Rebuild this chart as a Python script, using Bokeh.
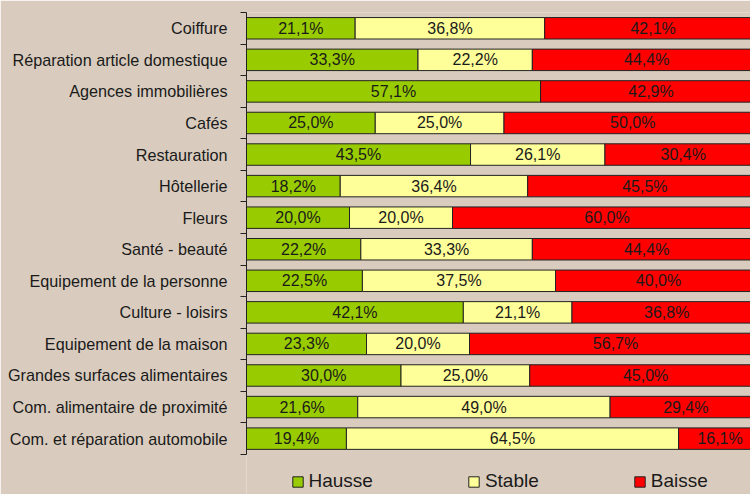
from bokeh.plotting import figure
from bokeh.models import ColumnDataSource, Range1d, FixedTicker
from bokeh.core.properties import value
from bokeh.embed import file_html
from bokeh.resources import INLINE

categories = ["Coiffure", "Réparation article domestique", "Agences immobilières", "Cafés",
              "Restauration", "Hôtellerie", "Fleurs", "Santé - beauté",
              "Equipement de la personne", "Culture - loisirs", "Equipement de la maison",
              "Grandes surfaces alimentaires", "Com. alimentaire de proximité",
              "Com. et réparation automobile"]
hausse = [21.1, 33.3, 57.1, 25.0, 43.5, 18.2, 20.0, 22.2, 22.5, 42.1, 23.3, 30.0, 21.6, 19.4]
stable = [36.8, 22.2, 0.0, 25.0, 26.1, 36.4, 20.0, 33.3, 37.5, 21.1, 20.0, 25.0, 49.0, 64.5]
baisse = [42.1, 44.4, 42.9, 50.0, 30.4, 45.5, 60.0, 44.4, 40.0, 36.8, 56.7, 45.0, 29.4, 16.1]
series = ["Hausse", "Stable", "Baisse"]
colors = ["#99CC00", "#FFFF99", "#FF0000"]

BG = "#D9CCBE"
FONT = "Liberation Sans"

n = len(categories)
ypos = [i + 0.5 for i in range(n)]

src = ColumnDataSource(dict(y=ypos, Hausse=hausse, Stable=stable, Baisse=baisse))

p = figure(width=750, height=494, output_backend="svg", toolbar_location=None,
           x_range=Range1d(0, 97.86), y_range=Range1d(15.27, 0),
           x_axis_location=None, min_border_left=246, min_border_right=0,
           min_border_top=12, min_border_bottom=0,
           background_fill_color=BG, border_fill_color=BG)
p.outline_line_color = None
p.grid.visible = False

p.hbar_stack(series, y="y", height=0.68, color=colors, line_color="#222222",
             line_width=1, source=src, legend_label=series)

# segment labels
lx, ly, lt = [], [], []
for i in range(n):
    start = 0.0
    for v in (hausse[i], stable[i], baisse[i]):
        if v > 0:
            lx.append(start + v / 2)
            ly.append(ypos[i])
            lt.append(("%.1f%%" % v).replace(".", ","))
        start += v
p.text(x=lx, y=ly, text=lt, text_align="center", text_baseline="middle",
       text_font=value(FONT), text_font_size="16px", text_color="#1a1a1a")

yax = p.yaxis[0]
yax.ticker = FixedTicker(ticks=ypos, minor_ticks=list(range(n + 1)))
yax.major_label_overrides = {ypos[i]: categories[i] for i in range(n)}
yax.bounds = (0, n)
yax.major_tick_out = 0
yax.major_tick_in = 0
yax.minor_tick_out = 6
yax.minor_tick_in = 0
yax.minor_tick_line_color = "#222222"
yax.axis_line_color = "#222222"
yax.major_label_standoff = 13
yax.major_label_text_font = FONT
yax.major_label_text_font_size = "16.2px"
yax.major_label_text_color = "#1a1a1a"

lg = p.legend[0]
lg.orientation = "horizontal"
lg.location = (44.5, 2)
lg.background_fill_alpha = 0
lg.border_line_alpha = 0
lg.padding = 0
lg.margin = 0
lg.spacing = 94
lg.glyph_width = 13
lg.glyph_height = 13
lg.label_standoff = 5
lg.label_text_font = FONT
lg.label_text_font_size = "19px"
lg.label_text_color = "#1a1a1a"

open("out.html", "w").write(file_html(p, INLINE))
